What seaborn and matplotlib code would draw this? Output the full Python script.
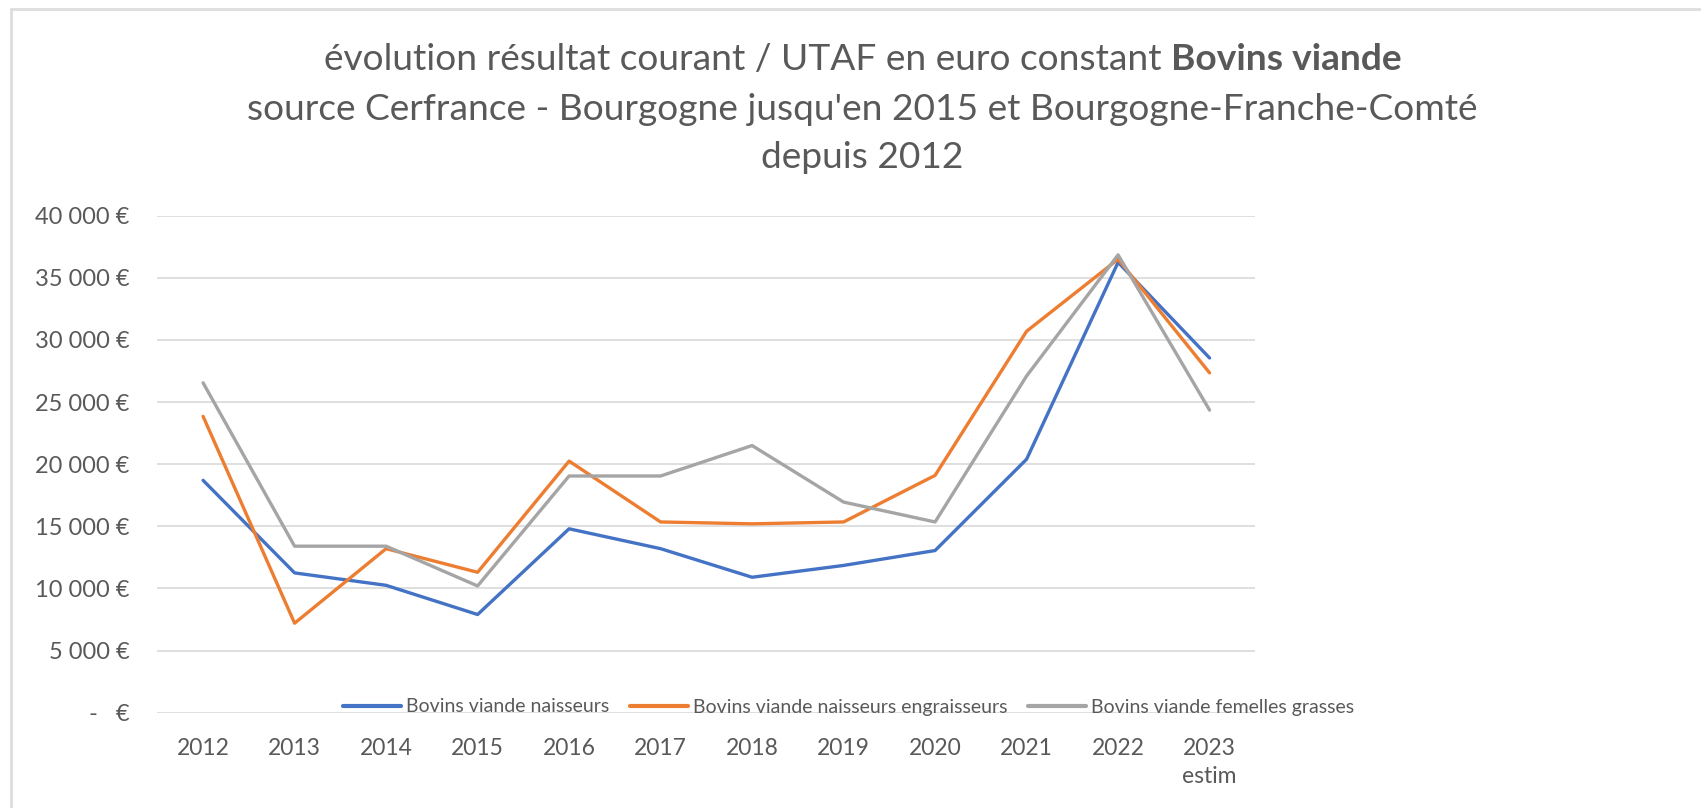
import numpy as np
import pandas as pd
import matplotlib
matplotlib.use("Agg")
import matplotlib.pyplot as plt
import seaborn as sns
from matplotlib.lines import Line2D

years = ["2012", "2013", "2014", "2015", "2016", "2017", "2018", "2019", "2020", "2021", "2022", "2023\nestim"]
naisseurs = [18700, 11250, 10250, 7900, 14800, 13200, 10900, 11850, 13050, 20400, 36250, 28550]
engraisseurs = [23850, 7200, 13200, 11300, 20250, 15350, 15200, 15350, 19100, 30700, 36500, 27350]
femelles = [26550, 13400, 13400, 10200, 19050, 19050, 21500, 16950, 15350, 27100, 36850, 24350]
series_names = ["Bovins viande naisseurs", "Bovins viande naisseurs engraisseurs", "Bovins viande femelles grasses"]
colors = ["#4472C4", "#ED7D31", "#A5A5A5"]
yticks = [0, 5000, 10000, 15000, 20000, 25000, 30000, 35000, 40000]

sns.set_theme(style="white")
plt.rcParams['font.family'] = ['Lato', 'DejaVu Sans']

rows = []
for name, vals in zip(series_names, [naisseurs, engraisseurs, femelles]):
    for i, v in enumerate(vals):
        rows.append({"pos": i, "val": v, "serie": name})
df = pd.DataFrame(rows)

fig = plt.figure(figsize=(17.01, 8.08), dpi=100)
ax = fig.add_axes([0.0925, 0.118, 0.6455, 0.615])

for y in yticks:
    ax.axhline(y, color="#D9D9D9", lw=1.2, zorder=0)

sns.lineplot(data=df, x="pos", y="val", hue="serie", palette=colors,
             hue_order=series_names, linewidth=2.4, ax=ax, legend=False, sort=False)

ax.set_xlim(-0.5, len(years) - 0.5)
ax.set_ylim(0, 40000)
ax.set_xticks(range(len(years)))
ax.set_xticklabels(years, fontsize=16.5, color="#595959", linespacing=1.45)
ax.set_yticks(yticks)
ylabels = ["-   €" if v == 0 else f"{v:,}".replace(",", " ") + " €" for v in yticks]
ax.set_yticklabels(ylabels, fontsize=17, color="#595959")
ax.tick_params(axis="y", length=0, pad=20)
ax.tick_params(axis="x", length=0, pad=18)
for s in ax.spines.values():
    s.set_visible(False)
ax.set_xlabel("")
ax.set_ylabel("")

handles = [Line2D([0], [0], color=c, lw=3) for c in colors]
fig.legend(handles, series_names, loc="center", bbox_to_anchor=(0.499, 0.125),
           ncol=3, frameon=False, fontsize=14, handlelength=3.0,
           handletextpad=0.25, columnspacing=1.05, labelcolor="#595959")

# Title with bold segment
fig.canvas.draw()
renderer = fig.canvas.get_renderer()
tcol = "#595959"
tfs = 26.7
cx = 0.507
y1 = 1 - 59 / 808
part1 = fig.text(0, y1, "évolution résultat courant / UTAF en euro constant ", fontsize=tfs, color=tcol, ha="left", va="center")
part2 = fig.text(0, y1, "Bovins viande", fontsize=tfs, color=tcol, fontweight="bold", ha="left", va="center")
w1 = part1.get_window_extent(renderer).width
w2 = part2.get_window_extent(renderer).width
W = fig.get_figwidth() * fig.dpi
x0 = cx * W - (w1 + w2) / 2
part1.set_x(x0 / W)
part2.set_x((x0 + w1) / W)
fig.text(cx, 1 - 109 / 808, "source Cerfrance - Bourgogne jusqu'en 2015 et Bourgogne-Franche-Comté",
         fontsize=tfs, color=tcol, ha="center", va="center")
fig.text(cx, 1 - 158 / 808, "depuis 2012", fontsize=tfs, color=tcol, ha="center", va="center")

# chart border (top and left visible)
fig.add_artist(Line2D([11 / 1701, 11 / 1701], [0, 1 - 9 / 808], color="#DDDDDD", lw=2, transform=fig.transFigure))
fig.add_artist(Line2D([11 / 1701, 1], [1 - 9 / 808, 1 - 9 / 808], color="#DDDDDD", lw=2, transform=fig.transFigure))

fig.savefig("out.png", dpi=100, facecolor="white")
